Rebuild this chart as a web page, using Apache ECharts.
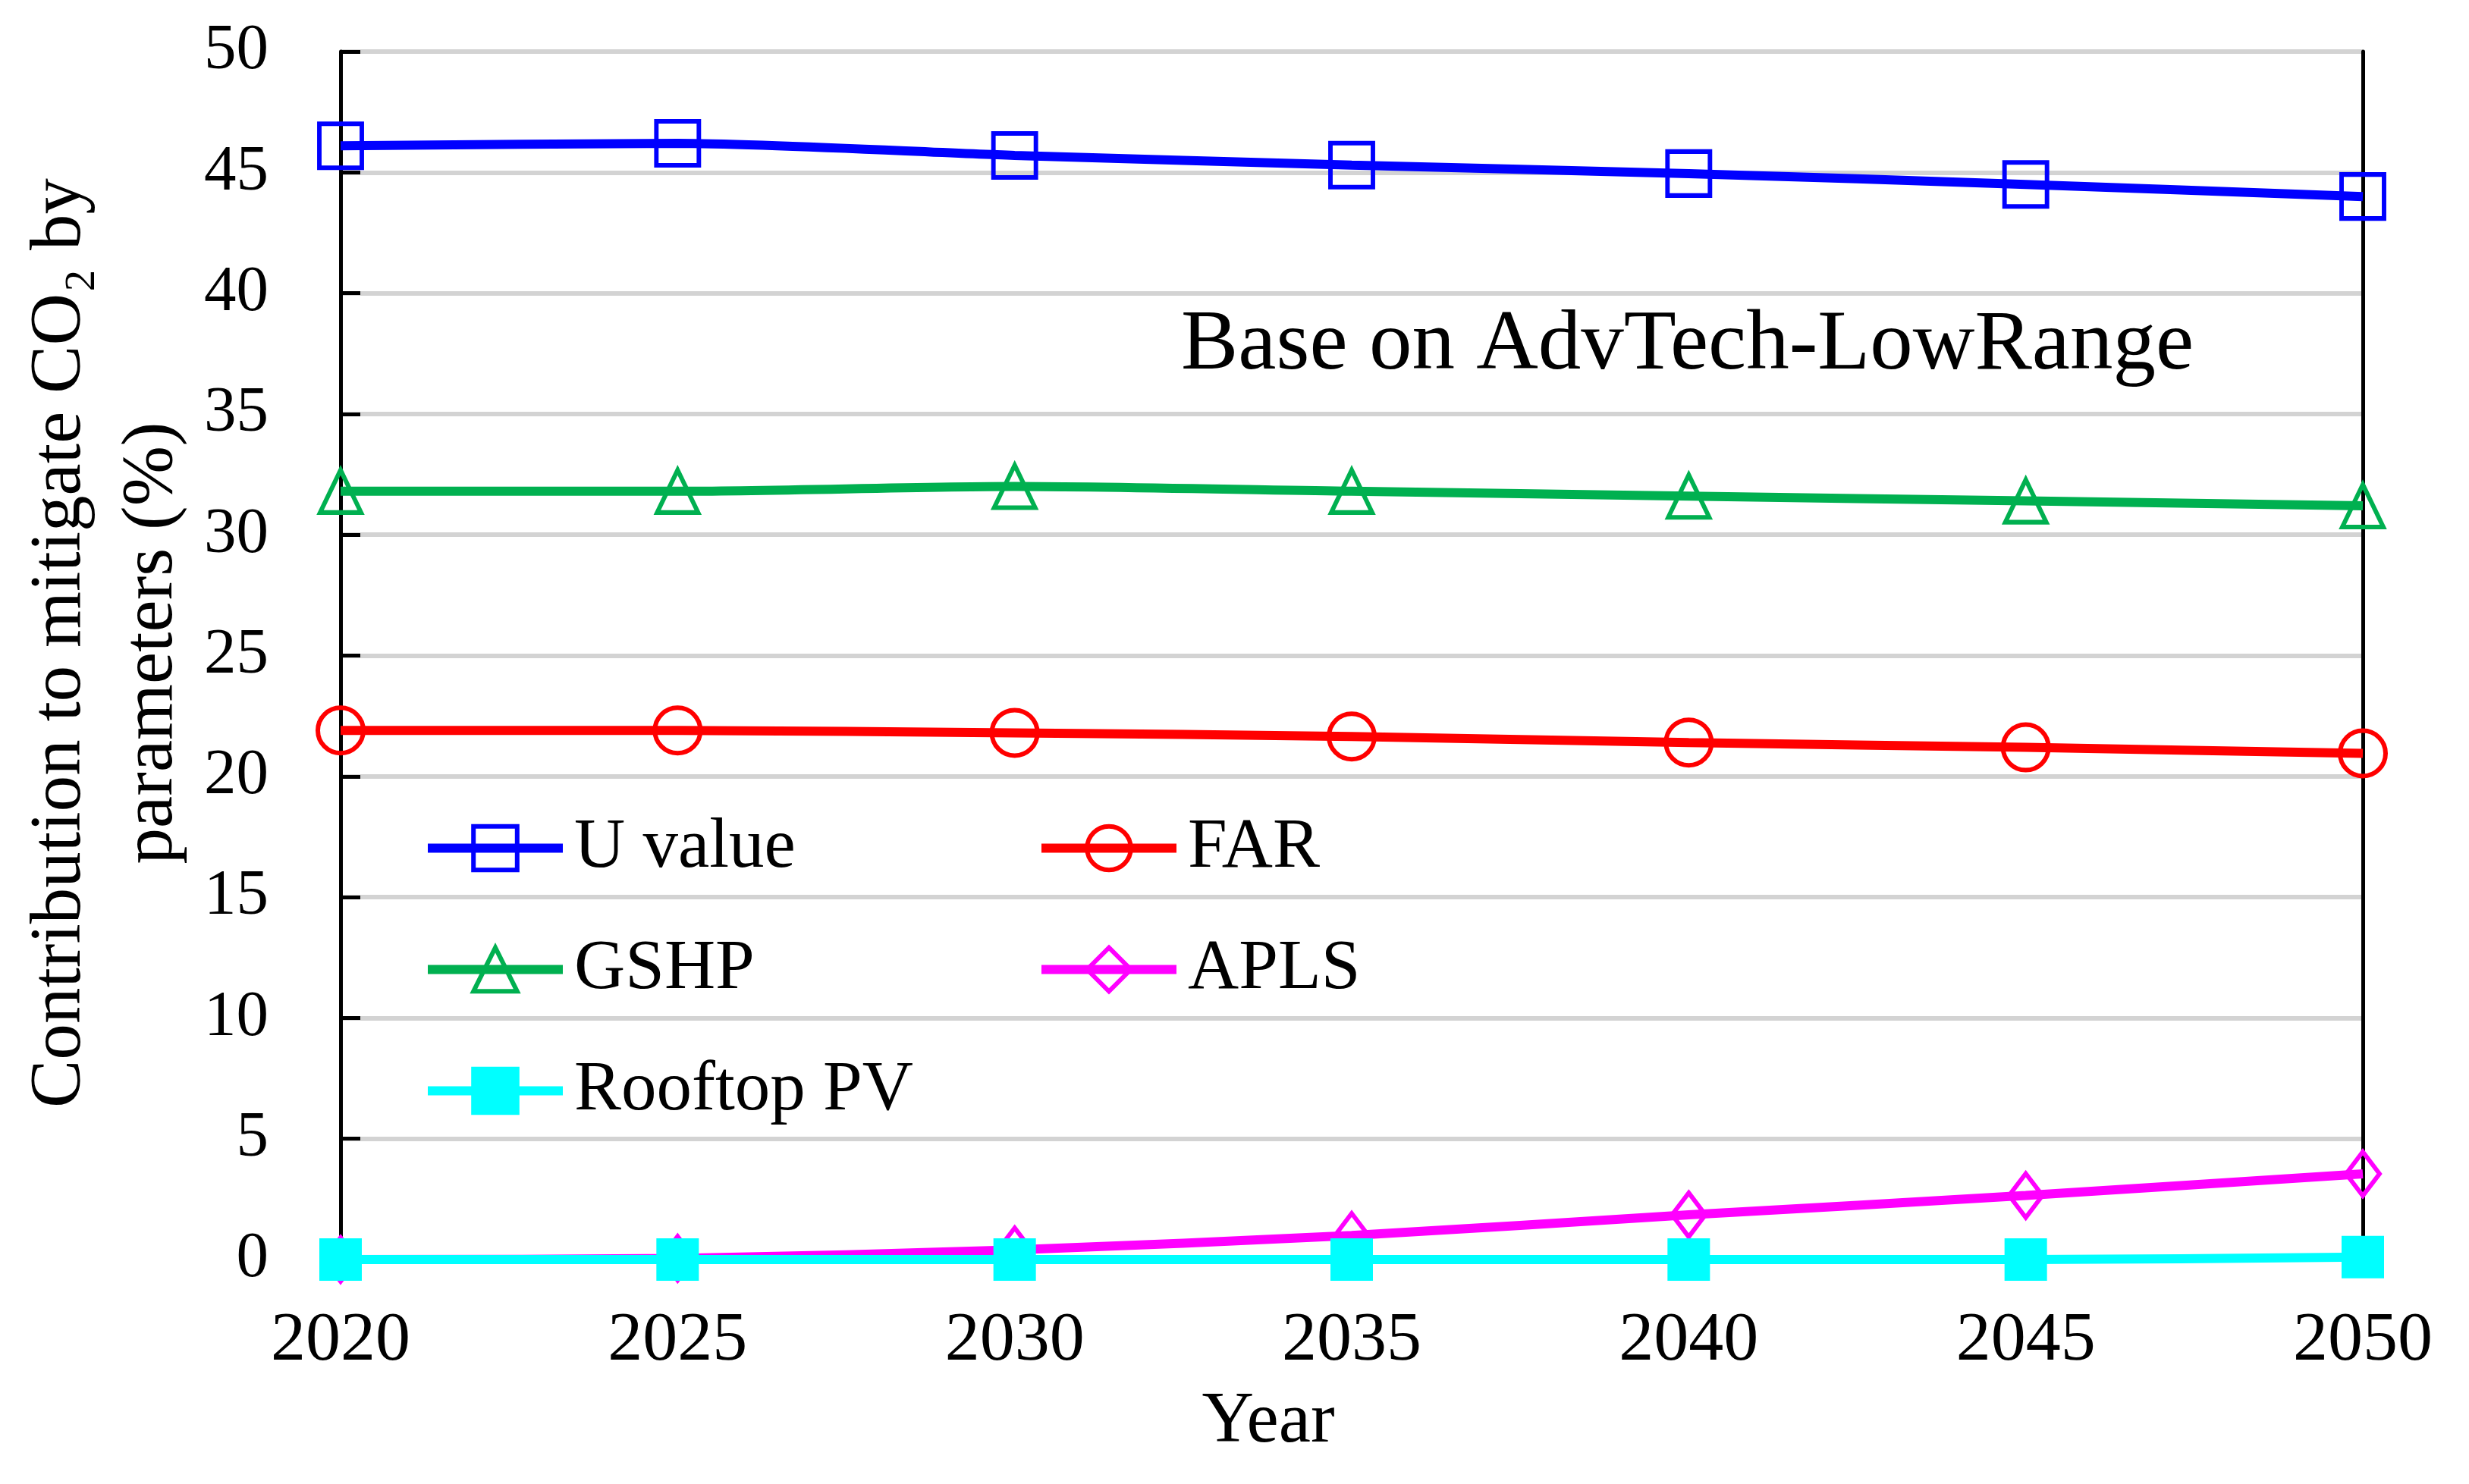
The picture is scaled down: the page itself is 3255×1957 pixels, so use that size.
<!DOCTYPE html>
<html>
<head>
<meta charset="utf-8">
<script src="https://cdn.jsdelivr.net/npm/echarts@6/dist/echarts.min.js"></script>
<style>
html, body { margin: 0; padding: 0; background: #fff; }
#main { width: 3255px; height: 1957px; }
</style>
</head>
<body>
<div id="main"></div>
<script>
var years = ['2020', '2025', '2030', '2035', '2040', '2045', '2050'];
var uValue = [46.1, 46.2, 45.7, 45.3, 44.95, 44.5, 44.0];
var far = [21.9, 21.9, 21.8, 21.65, 21.4, 21.2, 20.95];
var gshp = [31.8, 31.8, 32.0, 31.8, 31.6, 31.4, 31.2];
var apls = [0, 0.05, 0.4, 1.0, 1.85, 2.65, 3.55];
var rooftopPV = [0, 0, 0, 0, 0, 0, 0.1];

var serif = "Liberation Serif";

var myChart = echarts.init(document.getElementById('main'));

function lineSeries(name, data, color, symbol, size, filled) {
    return {
        name: name,
        type: 'line',
        data: data,
        symbol: symbol,
        symbolSize: size,
        smooth: 0.25,
        lineStyle: { color: color, width: 12 },
        itemStyle: {
            color: filled ? color : 'rgba(255,255,255,0)',
            borderColor: color,
            borderWidth: 6
        },
        emphasis: { disabled: true }
    };
}

function yTitleLine(text, x) {
    return {
        type: 'text',
        x: x,
        y: 848,
        rotation: Math.PI / 2,
        style: {
            text: text,
            fontFamily: serif,
            fontSize: 95,
            align: 'center',
            verticalAlign: 'middle',
            fill: '#000'
        }
    };
}

var legendText = {
    fontFamily: serif,
    fontSize: 93,
    color: '#000',
    lineHeight: 72,
    padding: [0, 0, 0, 10]
};

option = {
    backgroundColor: '#fff',
    animation: false,
    grid: {
        left: 449,
        right: 140,
        top: 68,
        bottom: 296,
        containLabel: false,
        outerBoundsMode: 'none'
    },
    legend: [
        {
            orient: 'vertical',
            left: 558,
            top: 1072,
            padding: 0,
            itemWidth: 178,
            itemHeight: 72,
            itemGap: 67,
            data: ['U value', 'GSHP', 'Rooftop PV'],
            textStyle: legendText,
            lineStyle: { width: 12 },
            itemStyle: { borderWidth: 6 }
        },
        {
            orient: 'vertical',
            left: 1367,
            top: 1072,
            padding: 0,
            itemWidth: 178,
            itemHeight: 72,
            itemGap: 67,
            data: ['FAR', 'APLS'],
            textStyle: legendText,
            lineStyle: { width: 12 },
            itemStyle: { borderWidth: 6 }
        }
    ],
    graphic: [
        {
            type: 'text',
            left: 1557,
            top: 400,
            style: {
                text: 'Base on AdvTech-LowRange',
                fontFamily: serif,
                fontSize: 113,
                fill: '#000'
            }
        },
        // y axis title, two rotated lines
        yTitleLine('Contribution to mitigate CO\u2082 by', 80),
        yTitleLine('parameters (%)', 201)
    ],
    xAxis: [
        {
            type: 'category',
            data: years,
            boundaryGap: false,
            z: 1,
            axisLine: { show: true, lineStyle: { color: '#000', width: 5 } },
            axisTick: { show: true, inside: true, length: 28, lineStyle: { color: '#000', width: 5 } },
            axisLabel: { fontFamily: serif, fontSize: 92, color: '#000', margin: 62 },
            splitLine: { show: false },
            name: 'Year',
            nameLocation: 'middle',
            nameGap: 168,
            nameTextStyle: { fontFamily: serif, fontSize: 95, color: '#000', padding: [0, 220, 0, 0] }
        },
        {
            type: 'category',
            data: years,
            boundaryGap: false,
            position: 'top',
            z: 1,
            axisLine: { show: true, lineStyle: { color: '#000', width: 5 } },
            axisTick: { show: false },
            axisLabel: { show: false },
            splitLine: { show: false }
        }
    ],
    yAxis: [
        {
            type: 'value',
            min: 0,
            max: 50,
            interval: 5,
            z: 1,
            axisLine: { show: true, lineStyle: { color: '#000', width: 5 } },
            axisTick: { show: true, inside: true, length: 26, lineStyle: { color: '#000', width: 5 } },
            axisLabel: { fontFamily: serif, fontSize: 85, color: '#000', margin: 95 },
            splitLine: { show: true, lineStyle: { color: '#d3d3d3', width: 6 } }
        },
        {
            type: 'value',
            min: 0,
            max: 50,
            interval: 5,
            position: 'right',
            z: 1,
            axisLine: { show: true, lineStyle: { color: '#000', width: 5 } },
            axisTick: { show: false },
            axisLabel: { show: false },
            splitLine: { show: false }
        }
    ],
    series: [
        lineSeries('U value', uValue, '#0000ff', 'rect', [56, 58], false),
        lineSeries('FAR', far, '#ff0000', 'circle', 60, false),
        lineSeries('GSHP', gshp, '#00b050', 'triangle', [54, 56], false),
        lineSeries('APLS', apls, '#ff00ff', 'diamond', [44, 58], false),
        lineSeries('Rooftop PV', rooftopPV, '#00ffff', 'rect', [50, 50], true)
    ]
};

myChart.setOption(option);
window.onresize = myChart.resize;
</script>
</body>
</html>
